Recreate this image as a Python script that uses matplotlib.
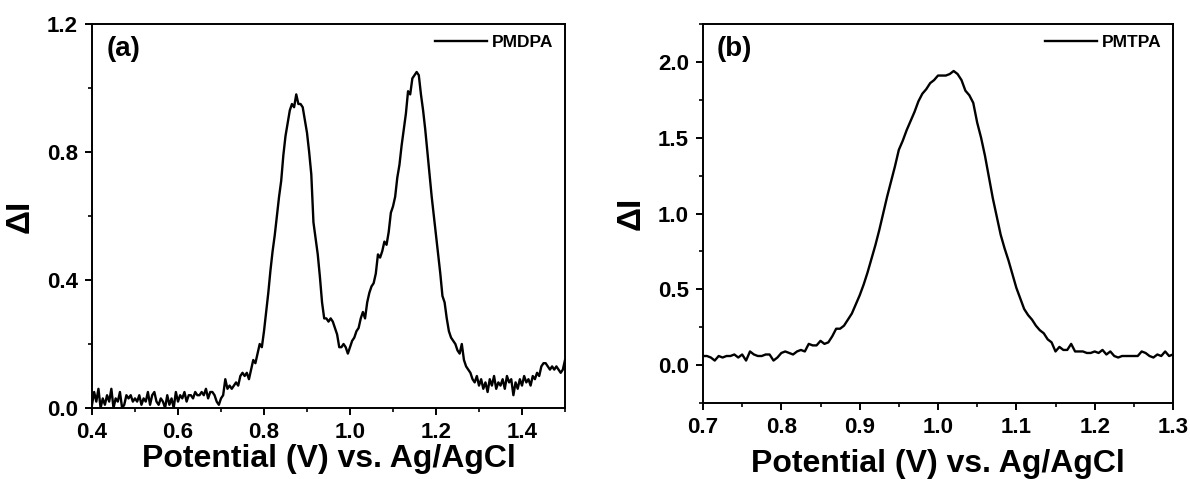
import numpy as np
import matplotlib
matplotlib.use("Agg")
import matplotlib.pyplot as plt
from matplotlib.ticker import MultipleLocator, FormatStrFormatter

plt.rcParams['font.family'] = ['Liberation Sans', 'DejaVu Sans']
plt.rcParams['font.weight'] = 'bold'

# ---- Panel (a): PMDPA, potential 0.40 .. 1.50 V in 0.005 V steps ----
pot_a_start, pot_a_stop = 0.40, 1.50
dI_a = [
    0.01, 0.05, 0.02, 0.06, 0.00, 0.03, 0.01, 0.04, 0.02, 0.06,
    0.00, 0.03, 0.02, 0.05, 0.00, 0.01, 0.04, 0.03, 0.04, 0.02,
    0.03, 0.02, 0.04, 0.01, 0.03, 0.02, 0.05, 0.01, 0.04, 0.05,
    0.02, 0.01, 0.03, 0.02, 0.00, 0.04, 0.01, 0.03, 0.00, 0.05,
    0.02, 0.04, 0.03, 0.05, 0.02, 0.04, 0.04, 0.03, 0.05, 0.04,
    0.04, 0.05, 0.04, 0.06, 0.03, 0.05, 0.05, 0.04, 0.02, 0.01,
    0.03, 0.04, 0.09, 0.06, 0.07, 0.06, 0.07, 0.08, 0.07, 0.10,
    0.11, 0.10, 0.11, 0.09, 0.12, 0.15, 0.14, 0.17, 0.20, 0.19,
    0.24, 0.30, 0.36, 0.43, 0.49, 0.54, 0.60, 0.66, 0.71, 0.79,
    0.85, 0.89, 0.93, 0.95, 0.94, 0.98, 0.95, 0.95, 0.94, 0.90,
    0.86, 0.80, 0.73, 0.58, 0.53, 0.48, 0.41, 0.33, 0.28, 0.28,
    0.27, 0.28, 0.27, 0.25, 0.23, 0.19, 0.19, 0.20, 0.19, 0.17,
    0.19, 0.21, 0.22, 0.24, 0.25, 0.28, 0.30, 0.28, 0.33, 0.36,
    0.38, 0.39, 0.42, 0.48, 0.47, 0.49, 0.52, 0.51, 0.55, 0.61,
    0.63, 0.66, 0.72, 0.76, 0.82, 0.87, 0.92, 0.99, 0.98, 1.03,
    1.04, 1.05, 1.04, 0.98, 0.93, 0.87, 0.80, 0.73, 0.66, 0.60,
    0.54, 0.48, 0.42, 0.35, 0.33, 0.28, 0.24, 0.22, 0.21, 0.20,
    0.18, 0.17, 0.20, 0.15, 0.13, 0.12, 0.11, 0.09, 0.08, 0.10,
    0.07, 0.09, 0.06, 0.08, 0.05, 0.09, 0.07, 0.10, 0.06, 0.08,
    0.07, 0.09, 0.06, 0.10, 0.08, 0.09, 0.04, 0.08, 0.06, 0.09,
    0.07, 0.10, 0.08, 0.09, 0.07, 0.10, 0.09, 0.11, 0.10, 0.13,
    0.14, 0.14, 0.13, 0.12, 0.13, 0.12, 0.13, 0.12, 0.11, 0.12,
    0.15,
]

# ---- Panel (b): PMTPA, potential 0.70 .. 1.30 V in 0.005 V steps ----
pot_b_start, pot_b_stop = 0.70, 1.30
dI_b = [
    0.06, 0.06, 0.05, 0.03, 0.06, 0.05, 0.06, 0.06, 0.07, 0.05,
    0.07, 0.03, 0.09, 0.07, 0.06, 0.06, 0.07, 0.07, 0.03, 0.05,
    0.08, 0.09, 0.08, 0.07, 0.09, 0.10, 0.09, 0.14, 0.13, 0.13,
    0.16, 0.14, 0.15, 0.19, 0.24, 0.24, 0.26, 0.30, 0.34, 0.40,
    0.46, 0.53, 0.61, 0.70, 0.79, 0.89, 1.00, 1.11, 1.21, 1.31,
    1.42, 1.48, 1.55, 1.61, 1.67, 1.74, 1.79, 1.82, 1.86, 1.88,
    1.91, 1.91, 1.91, 1.92, 1.94, 1.92, 1.88, 1.81, 1.78, 1.73,
    1.60, 1.50, 1.38, 1.24, 1.10, 0.98, 0.86, 0.77, 0.69, 0.60,
    0.51, 0.44, 0.37, 0.33, 0.30, 0.26, 0.23, 0.21, 0.17, 0.15,
    0.09, 0.12, 0.10, 0.10, 0.14, 0.09, 0.09, 0.09, 0.08, 0.08,
    0.09, 0.08, 0.10, 0.07, 0.09, 0.06, 0.05, 0.06, 0.06, 0.06,
    0.06, 0.06, 0.09, 0.08, 0.06, 0.05, 0.07, 0.06, 0.09, 0.06,
    0.07,
]

xlabel_text = "Potential (V) vs. Ag/AgCl"
ylabel_text = "ΔI"

pot_a = np.linspace(pot_a_start, pot_a_stop, len(dI_a))
pot_b = np.linspace(pot_b_start, pot_b_stop, len(dI_b))

W, H = 1190, 479
fig = plt.figure(figsize=(W / 100, H / 100), dpi=100)
axA = fig.add_axes([92 / W, 1 - 408 / H, (565 - 92) / W, (408 - 24) / H])
axB = fig.add_axes([703 / W, 1 - 403 / H, (1173 - 703) / W, (403 - 24) / H])

def style(ax, xmaj, xmin, ymaj, ymin):
    ax.xaxis.set_major_locator(MultipleLocator(xmaj))
    ax.xaxis.set_minor_locator(MultipleLocator(xmin))
    ax.yaxis.set_major_locator(MultipleLocator(ymaj))
    ax.yaxis.set_minor_locator(MultipleLocator(ymin))
    ax.xaxis.set_major_formatter(FormatStrFormatter('%.1f'))
    ax.yaxis.set_major_formatter(FormatStrFormatter('%.1f'))
    for s in ax.spines.values():
        s.set_linewidth(1.4)
    ax.tick_params(which='major', direction='out', length=5, width=1.4,
                   labelsize=16, pad=5, top=False, right=False)
    ax.tick_params(which='minor', direction='out', length=3, width=1.2,
                   top=False, right=False)
    for lab in ax.get_xticklabels() + ax.get_yticklabels():
        lab.set_fontweight('bold')
    ax.set_xlabel(xlabel_text, fontsize=23, fontweight='bold', labelpad=1)
    ax.set_ylabel(ylabel_text, fontsize=24, fontweight='bold')

axA.plot(pot_a, dI_a, color='black', lw=1.7, label='PMDPA')
axA.set_xlim(0.4, 1.5)
axA.set_ylim(0.0, 1.2)
style(axA, 0.2, 0.1, 0.4, 0.2)
axA.yaxis.labelpad = 8
axA.text(0.03, 0.935, '(a)', transform=axA.transAxes, fontsize=20,
         fontweight='bold', va='center', ha='left')
axA.legend(loc='upper right', frameon=False, handlelength=3.0,
           handletextpad=0.3, borderaxespad=0.25,
           prop={'weight': 'bold', 'size': 12.5})

axB.plot(pot_b, dI_b, color='black', lw=1.7, label='PMTPA')
axB.set_xlim(0.7, 1.3)
axB.set_ylim(-0.25, 2.25)
style(axB, 0.1, 0.05, 0.5, 0.25)
axB.yaxis.labelpad = 8
axB.xaxis.labelpad = 8
axB.text(0.03, 0.935, '(b)', transform=axB.transAxes, fontsize=20,
         fontweight='bold', va='center', ha='left')
axB.legend(loc='upper right', frameon=False, handlelength=3.0,
           handletextpad=0.3, borderaxespad=0.25,
           prop={'weight': 'bold', 'size': 12.5})

fig.savefig('out.png', dpi=100)
